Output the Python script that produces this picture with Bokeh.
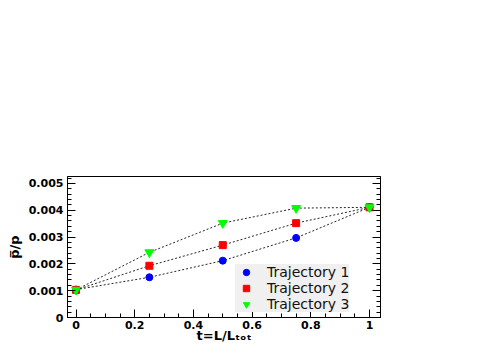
from bokeh.plotting import figure
from bokeh.models import FixedTicker, LinearAxis, Range1d
from bokeh.embed import file_html
from bokeh.resources import INLINE

t = [0.0, 0.25, 0.5, 0.75, 1.0]
traj1 = [0.00104, 0.00150, 0.00212, 0.00297, 0.00411]
traj2 = [0.00103, 0.00193, 0.00270, 0.00352, 0.00411]
traj3 = [0.00103, 0.00243, 0.00352, 0.00408, 0.00411]
names = ["Trajectory 1", "Trajectory 2", "Trajectory 3"]
x_ticks = [0, 0.2, 0.4, 0.6, 0.8, 1.0]
x_tick_labels = ["0", "0.2", "0.4", "0.6", "0.8", "1"]
y_ticks = [0, 0.001, 0.002, 0.003, 0.004, 0.005]
y_tick_labels = ["0", "0.001", "0.002", "0.003", "0.004", "0.005"]

FONT = "DejaVu Sans"

p = figure(width=483, height=345, output_backend="svg", toolbar_location=None,
           x_range=Range1d(-0.029, 1.0375), y_range=Range1d(0, 0.00526),
           min_border_left=67, min_border_right=103, min_border_top=176, min_border_bottom=27)
p.grid.visible = False
p.outline_line_color = "black"
p.outline_line_width = 1
p.background_fill_color = "white"

xminor = [i * 0.05 for i in range(-1, 21)]
yminor = [i * 0.0002 for i in range(0, 27)]

p.xaxis.ticker = FixedTicker(ticks=x_ticks, minor_ticks=xminor)
p.xaxis.major_label_overrides = {v: s for v, s in zip(x_ticks, x_tick_labels)}
p.yaxis.ticker = FixedTicker(ticks=y_ticks, minor_ticks=yminor)
p.yaxis.major_label_overrides = {v: s for v, s in zip(y_ticks, y_tick_labels)}

for ax in (p.xaxis[0], p.yaxis[0]):
    ax.major_tick_in = 8
    ax.major_tick_out = 0
    ax.minor_tick_in = 4
    ax.minor_tick_out = 0
    ax.major_label_text_font = FONT
    ax.major_label_text_font_style = "bold"
    ax.major_label_text_font_size = "11px"
    ax.major_label_text_color = "black"
    ax.major_label_standoff = 4
    ax.axis_line_color = "black"
    ax.axis_label_text_font = FONT
    ax.axis_label_text_font_style = "bold"
    ax.axis_label_text_color = "black"

p.yaxis.axis_label = "p\u0305/p"
p.yaxis.axis_label_text_font_size = "13px"
p.yaxis.axis_label_standoff = 4

p.xaxis.major_label_standoff = 3
p.xaxis.axis_label = "t=L/L\u209c\u2092\u209c"
p.xaxis.axis_label_text_font_size = "13px"
p.xaxis.axis_label_standoff = -4

rax = LinearAxis(ticker=FixedTicker(ticks=y_ticks, minor_ticks=yminor),
                 major_tick_in=8, major_tick_out=0, minor_tick_in=4, minor_tick_out=0,
                 major_label_overrides={v: "" for v in y_ticks},
                 axis_line_color="black")
p.add_layout(rax, "right")

for y in (traj1, traj2, traj3):
    p.line(t, y, line_color="black", line_alpha=0.85, line_width=1, line_dash="2 2")

p.scatter(t, traj1, marker="circle", size=7, color="#0000ff", legend_label=names[0])
p.scatter(t, traj2, marker="square", size=7, color="#ff0000", legend_label=names[1])
p.scatter(t, traj3, marker="inverted_triangle", size=9, color="#00ff00", legend_label=names[2])

lg = p.legend[0]
lg.location = (168, 5)
lg.background_fill_color = "#f0f0f0"
lg.background_fill_alpha = 1
lg.border_line_color = None
lg.label_text_font = FONT
lg.label_text_font_size = "14px"
lg.label_text_color = "#111111"
lg.padding = 1
lg.margin = 0
lg.spacing = 0
lg.glyph_width = 22
lg.glyph_height = 16
lg.label_height = 16
lg.label_standoff = 10

open("out.html", "w").write(file_html(p, INLINE))
